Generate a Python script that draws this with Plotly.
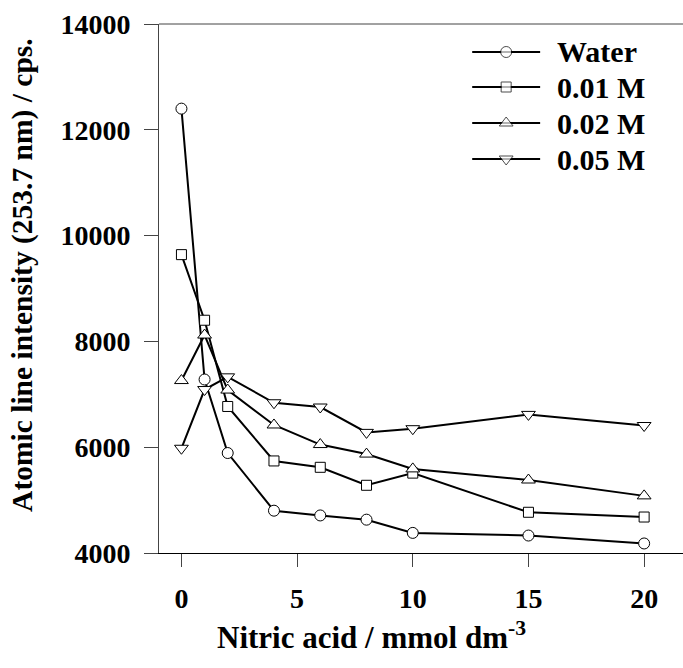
import plotly.graph_objects as go

nitric = [0, 1, 2, 4, 6, 8, 10, 15, 20]
water = [12400, 7280, 5890, 4800, 4710, 4630, 4380, 4330, 4180]
m001 = [9640, 8400, 6770, 5740, 5620, 5280, 5510, 4770, 4680]
m002 = [7260, 8120, 7080, 6420, 6050, 5870, 5590, 5380, 5080]
m005 = [5980, 7090, 7330, 6840, 6760, 6280, 6350, 6620, 6410]

series_names = ["Water", "0.01 M", "0.02 M", "0.05 M"]
series_vals = [water, m001, m002, m005]
symbols = ["circle", "square", "triangle-up", "triangle-down"]
sizes = [11, 10, 12, 12]

x_ticks = [0, 5, 10, 15, 20]
y_ticks = [4000, 6000, 8000, 10000, 12000, 14000]

FONT = "Liberation Serif"
L, R, T, B = 158.5, 0, 24, 115
W, H = 683, 668
PW, PH = W - L - R, H - T - B


def px(x):
    return (x - L) / PW


def py(y):
    return (H - B - y) / PH


fig = go.Figure()
for name, vals, sym, sz in zip(series_names, series_vals, symbols, sizes):
    fig.add_trace(go.Scatter(
        x=nitric, y=vals, name=name, mode="lines+markers",
        line=dict(color="black", width=2),
        marker=dict(symbol=sym, size=sz, color="white",
                    line=dict(color="black", width=1)),
        showlegend=False,
    ))

# custom legend (layout decoration)
leg_rows = [52, 87, 123, 159]
shapes = [dict(type="line", xref="paper", yref="paper", x0=0, x1=1, y0=1, y1=1,
               line=dict(color="#444", width=1))]
annotations = []
for name, sym, sz, ry in zip(series_names, symbols, sizes, leg_rows):
    shapes.append(dict(type="line", xref="paper", yref="paper",
                       x0=px(472), x1=px(540), y0=py(ry), y1=py(ry),
                       line=dict(color="black", width=2), layer="below"))
    annotations.append(dict(text=name, xref="paper", yref="paper",
                            x=px(555), y=py(ry), xanchor="left", yanchor="middle",
                            showarrow=False,
                            font=dict(family=FONT, size=30, weight="bold")))
fig.add_trace(go.Scatter(
    x=[px(506)] * 4, y=[py(r) for r in leg_rows], mode="markers",
    xaxis="x2", yaxis="y2", showlegend=False, hoverinfo="skip",
    marker=dict(symbol=symbols, size=sizes, color="white",
                line=dict(color="black", width=1)),
))

annotations += [
    dict(text="Atomic line intensity (253.7 nm) / cps.", xref="paper", yref="paper",
         x=px(22), y=0.525, xanchor="center", yanchor="middle", textangle=-90,
         showarrow=False, font=dict(family=FONT, size=29.5, weight="bold")),
    dict(text="Nitric acid / mmol dm<sup>-3</sup>", xref="paper", yref="paper",
         x=px(371), y=py(635), xanchor="center", yanchor="middle",
         showarrow=False, font=dict(family=FONT, size=31, weight="bold")),
]

fig.update_layout(
    width=W, height=H,
    margin=dict(l=L, r=R, t=T, b=B),
    plot_bgcolor="white", paper_bgcolor="white",
    font=dict(family=FONT, size=28, color="black", weight="bold"),
    showlegend=False,
    xaxis=dict(range=[-0.97, 21.68], tickvals=x_ticks,
               ticktext=[str(v) for v in x_ticks],
               showgrid=False, zeroline=False,
               showline=True, linecolor="black", linewidth=1.2,
               ticks="outside", ticklen=13, tickwidth=1, tickcolor="#444",
               ticklabelstandoff=7,
               tickfont=dict(family=FONT, size=28, weight="bold")),
    yaxis=dict(range=[4000, 14000], tickvals=y_ticks,
               ticktext=[str(v) for v in y_ticks],
               showgrid=False, zeroline=False,
               showline=True, linecolor="#444", linewidth=1,
               ticks="outside", ticklen=14, tickwidth=1, tickcolor="#444",
               ticklabelstandoff=8,
               tickfont=dict(family=FONT, size=28, weight="bold")),
    xaxis2=dict(range=[0, 1], overlaying="x", visible=False, fixedrange=True),
    yaxis2=dict(range=[0, 1], overlaying="y", visible=False, fixedrange=True),
    shapes=shapes,
    annotations=annotations,
)

fig.write_html("out.html")
